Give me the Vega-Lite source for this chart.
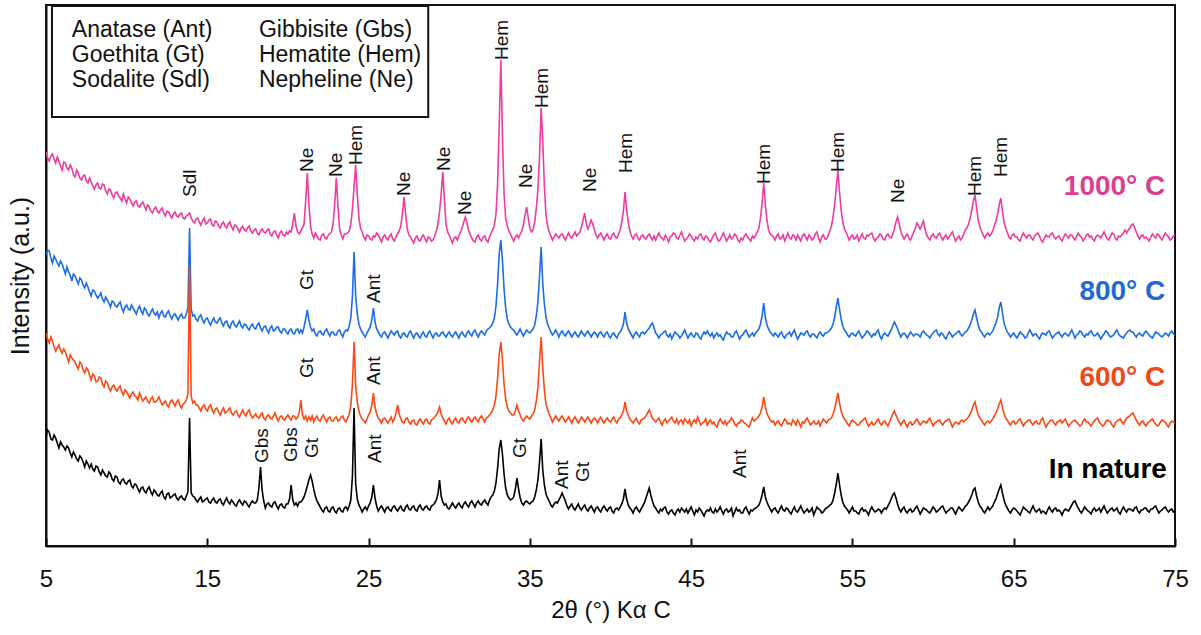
{
  "$schema": "https://vega.github.io/schema/vega-lite/v6.json",
  "width": 1129,
  "height": 541,
  "autosize": {"type": "none"},
  "padding": {"left": 46, "top": 5, "right": 26, "bottom": 89},
  "background": "white",
  "config": {
    "font": "Liberation Sans",
    "view": {"stroke": "#111111", "strokeWidth": 2},
    "axis": {"grid": false}
  },
  "datasets": {
    "xrd": [
      {"x":5,"a":394,"b":291,"c":213,"d":110},{"x":5.1,"a":388,"b":296,"c":207,"d":116},{"x":5.2,"a":385,"b":295,"c":203,"d":114},{"x":5.3,"a":390,"b":288,"c":209,"d":107},{"x":5.4,"a":392,"b":283,"c":205,"d":106},
      {"x":5.5,"a":387,"b":290,"c":199,"d":111},{"x":5.6,"a":383,"b":287,"c":195,"d":108},{"x":5.7,"a":389,"b":283,"c":198,"d":103},{"x":5.8,"a":385,"b":280,"c":201,"d":98},{"x":5.9,"a":380,"b":285,"c":196,"d":104},
      {"x":6,"a":376,"b":282,"c":193,"d":101},{"x":6.1,"a":384,"b":277,"c":197,"d":99},{"x":6.2,"a":383,"b":272,"c":194,"d":96},{"x":6.3,"a":378,"b":279,"c":189,"d":100},{"x":6.4,"a":376,"b":274,"c":184,"d":98},
      {"x":6.5,"a":381,"b":271,"c":191,"d":93},{"x":6.6,"a":378,"b":265,"c":188,"d":89},{"x":6.7,"a":371,"b":272,"c":186,"d":94},{"x":6.8,"a":369,"b":270,"c":184,"d":91},{"x":6.9,"a":376,"b":266,"c":180,"d":87},
      {"x":7,"a":373,"b":262,"c":177,"d":85},{"x":7.1,"a":368,"b":268,"c":184,"d":90},{"x":7.2,"a":366,"b":266,"c":182,"d":88},{"x":7.3,"a":370,"b":261,"c":176,"d":84},{"x":7.4,"a":371,"b":258,"c":173,"d":79},
      {"x":7.5,"a":365,"b":263,"c":178,"d":85},{"x":7.6,"a":363,"b":259,"c":176,"d":82},{"x":7.7,"a":368,"b":254,"c":171,"d":78},{"x":7.8,"a":364,"b":250,"c":166,"d":82},{"x":7.9,"a":360,"b":256,"c":172,"d":77},
      {"x":8,"a":357,"b":255,"c":170,"d":75},{"x":8.1,"a":361,"b":251,"c":164,"d":80},{"x":8.2,"a":363,"b":248,"c":165,"d":79},{"x":8.3,"a":358,"b":250,"c":169,"d":74},{"x":8.4,"a":357,"b":253,"c":168,"d":71},
      {"x":8.5,"a":362,"b":247,"c":162,"d":76},{"x":8.6,"a":361,"b":244,"c":159,"d":73},{"x":8.7,"a":355,"b":249,"c":165,"d":70},{"x":8.8,"a":352,"b":246,"c":163,"d":69},{"x":8.9,"a":357,"b":243,"c":158,"d":74},
      {"x":9,"a":356,"b":239,"c":155,"d":72},{"x":9.1,"a":351,"b":245,"c":159,"d":67},{"x":9.2,"a":348,"b":244,"c":161,"d":65},{"x":9.3,"a":353,"b":240,"c":157,"d":70},{"x":9.4,"a":354,"b":239,"c":155,"d":69},
      {"x":9.5,"a":350,"b":242,"c":158,"d":64},{"x":9.6,"a":348,"b":244,"c":160,"d":62},{"x":9.7,"a":345,"b":238,"c":154,"d":66},{"x":9.8,"a":352,"b":234,"c":151,"d":67},{"x":9.9,"a":347,"b":239,"c":156,"d":63},
      {"x":10,"a":343,"b":241,"c":154,"d":62},{"x":10.1,"a":349,"b":237,"c":151,"d":65},{"x":10.2,"a":347,"b":236,"c":148,"d":66},{"x":10.3,"a":343,"b":241,"c":152,"d":60},{"x":10.4,"a":340,"b":238,"c":154,"d":58},
      {"x":10.5,"a":344,"b":235,"c":150,"d":62},{"x":10.6,"a":345,"b":232,"c":149,"d":61},{"x":10.7,"a":340,"b":237,"c":146,"d":57},{"x":10.8,"a":339,"b":240,"c":153,"d":54},{"x":10.9,"a":342,"b":235,"c":149,"d":58},
      {"x":11,"a":344,"b":232,"c":145,"d":59},{"x":11.1,"a":340,"b":238,"c":147,"d":55},{"x":11.2,"a":336,"b":236,"c":149,"d":53},{"x":11.3,"a":341,"b":232,"c":145,"d":57},{"x":11.4,"a":339,"b":230,"c":143,"d":59},
      {"x":11.5,"a":335,"b":234,"c":147,"d":54},{"x":11.6,"a":333,"b":237,"c":149,"d":51},{"x":11.7,"a":337,"b":233,"c":144,"d":56},{"x":11.8,"a":339,"b":231,"c":144,"d":54},{"x":11.9,"a":335,"b":234,"c":146,"d":51},
      {"x":12,"a":333,"b":228,"c":149,"d":50},{"x":12.1,"a":336,"b":233,"c":145,"d":53},{"x":12.2,"a":338,"b":235,"c":141,"d":55},{"x":12.3,"a":333,"b":230,"c":143,"d":49},{"x":12.4,"a":330,"b":229,"c":145,"d":47},
      {"x":12.5,"a":335,"b":233,"c":141,"d":52},{"x":12.6,"a":334,"b":235,"c":139,"d":53},{"x":12.7,"a":331,"b":230,"c":144,"d":48},{"x":12.8,"a":328,"b":227,"c":146,"d":49},{"x":12.9,"a":332,"b":231,"c":143,"d":51},
      {"x":13,"a":334,"b":232,"c":140,"d":52},{"x":13.1,"a":330,"b":229,"c":144,"d":48},{"x":13.2,"a":329,"b":226,"c":146,"d":46},{"x":13.3,"a":332,"b":230,"c":141,"d":49},{"x":13.4,"a":333,"b":232,"c":138,"d":50},
      {"x":13.5,"a":328,"b":228,"c":142,"d":47},{"x":13.6,"a":327,"b":228,"c":143,"d":46},{"x":13.7,"a":330,"b":232,"c":146,"d":50},{"x":13.8,"a":331,"b":238,"c":152,"d":54},{"x":13.9,"a":333,"b":318,"c":281,"d":128},
      {"x":14,"a":328,"b":237,"c":150,"d":53},{"x":14.1,"a":325,"b":230,"c":143,"d":50},{"x":14.2,"a":323,"b":231,"c":145,"d":49},{"x":14.3,"a":327,"b":227,"c":141,"d":46},{"x":14.4,"a":328,"b":225,"c":141,"d":44},
      {"x":14.5,"a":324,"b":229,"c":138,"d":47},{"x":14.6,"a":321,"b":231,"c":135,"d":49},{"x":14.7,"a":325,"b":226,"c":139,"d":44},{"x":14.8,"a":328,"b":223,"c":141,"d":45},{"x":14.9,"a":322,"b":227,"c":137,"d":47},
      {"x":15,"a":323,"b":228,"c":135,"d":48},{"x":15.1,"a":326,"b":224,"c":139,"d":44},{"x":15.2,"a":327,"b":221,"c":141,"d":43},{"x":15.3,"a":321,"b":225,"c":136,"d":46},{"x":15.4,"a":320,"b":228,"c":133,"d":48},
      {"x":15.5,"a":325,"b":224,"c":137,"d":44},{"x":15.6,"a":324,"b":223,"c":138,"d":43},{"x":15.7,"a":320,"b":226,"c":134,"d":46},{"x":15.8,"a":318,"b":228,"c":131,"d":47},{"x":15.9,"a":322,"b":223,"c":135,"d":43},
      {"x":16,"a":324,"b":220,"c":138,"d":41},{"x":16.1,"a":320,"b":224,"c":133,"d":45},{"x":16.2,"a":318,"b":225,"c":134,"d":48},{"x":16.3,"a":322,"b":220,"c":136,"d":44},{"x":16.4,"a":324,"b":218,"c":138,"d":42},
      {"x":16.5,"a":319,"b":223,"c":133,"d":46},{"x":16.6,"a":316,"b":225,"c":131,"d":44},{"x":16.7,"a":321,"b":221,"c":134,"d":41},{"x":16.8,"a":320,"b":219,"c":135,"d":40},{"x":16.9,"a":317,"b":222,"c":131,"d":44},
      {"x":17,"a":314,"b":225,"c":129,"d":46},{"x":17.1,"a":318,"b":220,"c":133,"d":43},{"x":17.2,"a":320,"b":218,"c":136,"d":41},{"x":17.3,"a":316,"b":222,"c":132,"d":45},{"x":17.4,"a":315,"b":221,"c":130,"d":44},
      {"x":17.5,"a":318,"b":218,"c":134,"d":41},{"x":17.6,"a":320,"b":216,"c":136,"d":39},{"x":17.7,"a":315,"b":220,"c":131,"d":43},{"x":17.8,"a":313,"b":222,"c":128,"d":45},{"x":17.9,"a":316,"b":218,"c":130,"d":43},
      {"x":18,"a":317,"b":217,"c":132,"d":43},{"x":18.1,"a":313,"b":221,"c":129,"d":46},{"x":18.2,"a":311,"b":223,"c":128,"d":58},{"x":18.3,"a":315,"b":218,"c":131,"d":79},{"x":18.4,"a":317,"b":215,"c":133,"d":56},
      {"x":18.5,"a":314,"b":219,"c":128,"d":45},{"x":18.6,"a":313,"b":220,"c":126,"d":38},{"x":18.7,"a":316,"b":216,"c":130,"d":42},{"x":18.8,"a":317,"b":213,"c":131,"d":43},{"x":18.9,"a":312,"b":218,"c":128,"d":40},
      {"x":19,"a":310,"b":220,"c":127,"d":39},{"x":19.1,"a":314,"b":215,"c":130,"d":43},{"x":19.2,"a":315,"b":216,"c":133,"d":44},{"x":19.3,"a":311,"b":219,"c":128,"d":40},{"x":19.4,"a":308,"b":219,"c":125,"d":37},
      {"x":19.5,"a":313,"b":215,"c":129,"d":41},{"x":19.6,"a":315,"b":213,"c":130,"d":42},{"x":19.7,"a":311,"b":217,"c":127,"d":39},{"x":19.8,"a":310,"b":217,"c":126,"d":38},{"x":19.9,"a":314,"b":214,"c":129,"d":42},
      {"x":20,"a":312,"b":212,"c":131,"d":42},{"x":20.1,"a":315,"b":216,"c":128,"d":47},{"x":20.2,"a":314,"b":217,"c":126,"d":61},{"x":20.3,"a":322,"b":213,"c":130,"d":46},{"x":20.4,"a":333,"b":212,"c":130,"d":41},
      {"x":20.5,"a":320,"b":216,"c":127,"d":43},{"x":20.6,"a":314,"b":217,"c":129,"d":40},{"x":20.7,"a":312,"b":213,"c":133,"d":44},{"x":20.8,"a":315,"b":216,"c":146,"d":44},{"x":20.9,"a":318,"b":213,"c":131,"d":46},
      {"x":21,"a":322,"b":219,"c":127,"d":49},{"x":21.1,"a":345,"b":227,"c":130,"d":54},{"x":21.2,"a":373,"b":236,"c":125,"d":60},{"x":21.3,"a":342,"b":226,"c":129,"d":66},{"x":21.4,"a":320,"b":219,"c":126,"d":71},
      {"x":21.5,"a":312,"b":215,"c":130,"d":65},{"x":21.6,"a":308,"b":217,"c":124,"d":57},{"x":21.7,"a":313,"b":212,"c":128,"d":50},{"x":21.8,"a":310,"b":210,"c":130,"d":45},{"x":21.9,"a":307,"b":214,"c":126,"d":42},
      {"x":22,"a":306,"b":215,"c":125,"d":39},{"x":22.1,"a":311,"b":212,"c":129,"d":36},{"x":22.2,"a":312,"b":211,"c":131,"d":34},{"x":22.3,"a":308,"b":215,"c":127,"d":38},{"x":22.4,"a":307,"b":217,"c":124,"d":39},
      {"x":22.5,"a":311,"b":213,"c":128,"d":35},{"x":22.6,"a":312,"b":210,"c":129,"d":34},{"x":22.7,"a":314,"b":214,"c":125,"d":38},{"x":22.8,"a":322,"b":214,"c":125,"d":39},{"x":22.9,"a":342,"b":211,"c":128,"d":35},
      {"x":23,"a":368,"b":211,"c":129,"d":33},{"x":23.1,"a":340,"b":215,"c":125,"d":37},{"x":23.2,"a":318,"b":216,"c":126,"d":38},{"x":23.3,"a":311,"b":212,"c":129,"d":35},{"x":23.4,"a":307,"b":209,"c":130,"d":34},
      {"x":23.5,"a":312,"b":214,"c":126,"d":38},{"x":23.6,"a":312,"b":216,"c":124,"d":39},{"x":23.7,"a":313,"b":215,"c":128,"d":36},{"x":23.8,"a":315,"b":220,"c":132,"d":40},{"x":23.9,"a":322,"b":228,"c":140,"d":46},
      {"x":24,"a":337,"b":250,"c":162,"d":70},{"x":24.1,"a":359,"b":294,"c":204,"d":138},{"x":24.2,"a":381,"b":250,"c":160,"d":62},{"x":24.3,"a":352,"b":232,"c":144,"d":47},{"x":24.4,"a":328,"b":222,"c":135,"d":41},
      {"x":24.5,"a":318,"b":217,"c":130,"d":38},{"x":24.6,"a":314,"b":214,"c":127,"d":34},{"x":24.7,"a":309,"b":211,"c":125,"d":37},{"x":24.8,"a":306,"b":209,"c":123,"d":39},{"x":24.9,"a":311,"b":213,"c":127,"d":36},
      {"x":25,"a":310,"b":216,"c":131,"d":40},{"x":25.1,"a":307,"b":219,"c":134,"d":43},{"x":25.2,"a":306,"b":226,"c":141,"d":49},{"x":25.3,"a":310,"b":238,"c":153,"d":61},{"x":25.4,"a":309,"b":224,"c":139,"d":48},
      {"x":25.5,"a":313,"b":217,"c":132,"d":40},{"x":25.6,"a":311,"b":214,"c":128,"d":35},{"x":25.7,"a":308,"b":211,"c":126,"d":38},{"x":25.8,"a":304,"b":209,"c":123,"d":40},{"x":25.9,"a":309,"b":213,"c":127,"d":37},
      {"x":26,"a":311,"b":214,"c":128,"d":34},{"x":26.1,"a":308,"b":211,"c":125,"d":38},{"x":26.2,"a":306,"b":208,"c":123,"d":39},{"x":26.3,"a":310,"b":212,"c":126,"d":36},{"x":26.4,"a":312,"b":215,"c":129,"d":35},
      {"x":26.5,"a":307,"b":213,"c":124,"d":39},{"x":26.6,"a":305,"b":211,"c":127,"d":40},{"x":26.7,"a":309,"b":214,"c":133,"d":37},{"x":26.8,"a":312,"b":215,"c":141,"d":35},{"x":26.9,"a":315,"b":210,"c":132,"d":38},
      {"x":27,"a":320,"b":208,"c":127,"d":40},{"x":27.1,"a":333,"b":212,"c":124,"d":36},{"x":27.2,"a":349,"b":213,"c":123,"d":35},{"x":27.3,"a":331,"b":210,"c":127,"d":39},{"x":27.4,"a":317,"b":209,"c":128,"d":41},
      {"x":27.5,"a":311,"b":213,"c":124,"d":37},{"x":27.6,"a":309,"b":215,"c":122,"d":36},{"x":27.7,"a":306,"b":211,"c":125,"d":39},{"x":27.8,"a":303,"b":208,"c":126,"d":40},{"x":27.9,"a":308,"b":212,"c":122,"d":36},
      {"x":28,"a":310,"b":213,"c":121,"d":35},{"x":28.1,"a":306,"b":210,"c":125,"d":39},{"x":28.2,"a":305,"b":208,"c":127,"d":41},{"x":28.3,"a":309,"b":212,"c":124,"d":37},{"x":28.4,"a":311,"b":214,"c":122,"d":36},
      {"x":28.5,"a":307,"b":210,"c":126,"d":39},{"x":28.6,"a":304,"b":209,"c":127,"d":40},{"x":28.7,"a":309,"b":213,"c":123,"d":37},{"x":28.8,"a":308,"b":215,"c":122,"d":36},{"x":28.9,"a":305,"b":211,"c":126,"d":40},
      {"x":29,"a":306,"b":208,"c":127,"d":41},{"x":29.1,"a":310,"b":212,"c":129,"d":43},{"x":29.2,"a":315,"b":213,"c":131,"d":46},{"x":29.3,"a":322,"b":210,"c":134,"d":52},{"x":29.4,"a":334,"b":210,"c":139,"d":66},
      {"x":29.5,"a":352,"b":213,"c":132,"d":50},{"x":29.6,"a":374,"b":214,"c":128,"d":44},{"x":29.7,"a":348,"b":211,"c":125,"d":41},{"x":29.8,"a":322,"b":209,"c":122,"d":42},{"x":29.9,"a":314,"b":212,"c":126,"d":38},
      {"x":30,"a":311,"b":214,"c":128,"d":37},{"x":30.1,"a":307,"b":211,"c":124,"d":40},{"x":30.2,"a":303,"b":209,"c":122,"d":43},{"x":30.3,"a":308,"b":212,"c":126,"d":40},{"x":30.4,"a":309,"b":214,"c":128,"d":38},
      {"x":30.5,"a":306,"b":211,"c":124,"d":41},{"x":30.6,"a":310,"b":208,"c":123,"d":43},{"x":30.7,"a":314,"b":212,"c":127,"d":40},{"x":30.8,"a":318,"b":214,"c":128,"d":38},{"x":30.9,"a":324,"b":211,"c":125,"d":42},
      {"x":31,"a":329,"b":209,"c":123,"d":44},{"x":31.1,"a":323,"b":213,"c":127,"d":41},{"x":31.2,"a":316,"b":215,"c":129,"d":39},{"x":31.3,"a":311,"b":212,"c":126,"d":43},{"x":31.4,"a":308,"b":210,"c":124,"d":45},
      {"x":31.5,"a":305,"b":214,"c":127,"d":42},{"x":31.6,"a":304,"b":216,"c":129,"d":39},{"x":31.7,"a":309,"b":212,"c":126,"d":43},{"x":31.8,"a":311,"b":209,"c":124,"d":45},{"x":31.9,"a":307,"b":213,"c":128,"d":42},
      {"x":32,"a":305,"b":215,"c":130,"d":41},{"x":32.1,"a":309,"b":213,"c":127,"d":44},{"x":32.2,"a":310,"b":211,"c":124,"d":46},{"x":32.3,"a":306,"b":215,"c":128,"d":43},{"x":32.4,"a":304,"b":217,"c":129,"d":41},
      {"x":32.5,"a":309,"b":218,"c":131,"d":46},{"x":32.6,"a":313,"b":220,"c":133,"d":49},{"x":32.7,"a":316,"b":223,"c":136,"d":51},{"x":32.8,"a":321,"b":228,"c":141,"d":55},{"x":32.9,"a":332,"b":240,"c":150,"d":63},
      {"x":33,"a":362,"b":262,"c":168,"d":78},{"x":33.1,"a":420,"b":292,"c":192,"d":97},{"x":33.2,"a":486,"b":306,"c":204,"d":106},{"x":33.3,"a":410,"b":286,"c":186,"d":92},{"x":33.4,"a":352,"b":257,"c":162,"d":72},
      {"x":33.5,"a":328,"b":238,"c":147,"d":58},{"x":33.6,"a":320,"b":227,"c":139,"d":51},{"x":33.7,"a":315,"b":222,"c":135,"d":48},{"x":33.8,"a":312,"b":219,"c":133,"d":46},{"x":33.9,"a":308,"b":217,"c":131,"d":47},
      {"x":34,"a":305,"b":216,"c":131,"d":49},{"x":34.1,"a":309,"b":213,"c":135,"d":57},{"x":34.2,"a":311,"b":211,"c":141,"d":68},{"x":34.3,"a":308,"b":214,"c":135,"d":57},{"x":34.4,"a":312,"b":217,"c":131,"d":48},
      {"x":34.5,"a":315,"b":213,"c":127,"d":43},{"x":34.6,"a":321,"b":210,"c":125,"d":41},{"x":34.7,"a":331,"b":213,"c":128,"d":44},{"x":34.8,"a":339,"b":216,"c":130,"d":45},{"x":34.9,"a":328,"b":214,"c":128,"d":43},
      {"x":35,"a":318,"b":213,"c":127,"d":42},{"x":35.1,"a":314,"b":215,"c":130,"d":44},{"x":35.2,"a":316,"b":217,"c":132,"d":45},{"x":35.3,"a":324,"b":221,"c":136,"d":49},{"x":35.4,"a":338,"b":230,"c":145,"d":56},
      {"x":35.5,"a":356,"b":244,"c":159,"d":66},{"x":35.6,"a":390,"b":270,"c":184,"d":84},{"x":35.7,"a":438,"b":299,"c":209,"d":107},{"x":35.8,"a":405,"b":262,"c":178,"d":76},{"x":35.9,"a":360,"b":242,"c":156,"d":61},
      {"x":36,"a":331,"b":229,"c":142,"d":52},{"x":36.1,"a":320,"b":222,"c":136,"d":48},{"x":36.2,"a":314,"b":218,"c":132,"d":45},{"x":36.3,"a":310,"b":214,"c":128,"d":41},{"x":36.4,"a":306,"b":211,"c":124,"d":39},
      {"x":36.5,"a":309,"b":213,"c":127,"d":42},{"x":36.6,"a":312,"b":216,"c":130,"d":44},{"x":36.7,"a":310,"b":213,"c":127,"d":43},{"x":36.8,"a":308,"b":209,"c":125,"d":46},{"x":36.9,"a":311,"b":213,"c":128,"d":49},
      {"x":37,"a":312,"b":215,"c":130,"d":53},{"x":37.1,"a":309,"b":212,"c":127,"d":49},{"x":37.2,"a":306,"b":210,"c":124,"d":45},{"x":37.3,"a":310,"b":213,"c":126,"d":40},{"x":37.4,"a":313,"b":215,"c":129,"d":37},
      {"x":37.5,"a":309,"b":212,"c":126,"d":40},{"x":37.6,"a":308,"b":209,"c":123,"d":42},{"x":37.7,"a":311,"b":212,"c":127,"d":38},{"x":37.8,"a":314,"b":214,"c":129,"d":36},{"x":37.9,"a":310,"b":211,"c":126,"d":39},
      {"x":38,"a":312,"b":209,"c":123,"d":42},{"x":38.1,"a":314,"b":212,"c":126,"d":38},{"x":38.2,"a":319,"b":215,"c":129,"d":36},{"x":38.3,"a":326,"b":212,"c":127,"d":39},{"x":38.4,"a":333,"b":210,"c":124,"d":41},
      {"x":38.5,"a":322,"b":213,"c":127,"d":37},{"x":38.6,"a":317,"b":215,"c":129,"d":35},{"x":38.7,"a":321,"b":212,"c":126,"d":38},{"x":38.8,"a":326,"b":209,"c":123,"d":40},{"x":38.9,"a":322,"b":212,"c":126,"d":37},
      {"x":39,"a":316,"b":214,"c":128,"d":34},{"x":39.1,"a":311,"b":212,"c":126,"d":38},{"x":39.2,"a":308,"b":209,"c":123,"d":39},{"x":39.3,"a":311,"b":213,"c":127,"d":36},{"x":39.4,"a":313,"b":214,"c":129,"d":34},
      {"x":39.5,"a":309,"b":211,"c":125,"d":38},{"x":39.6,"a":306,"b":209,"c":123,"d":40},{"x":39.7,"a":310,"b":213,"c":126,"d":37},{"x":39.8,"a":312,"b":214,"c":128,"d":35},{"x":39.9,"a":308,"b":210,"c":125,"d":38},
      {"x":40,"a":307,"b":208,"c":124,"d":39},{"x":40.1,"a":311,"b":212,"c":127,"d":35},{"x":40.2,"a":313,"b":213,"c":129,"d":33},{"x":40.3,"a":309,"b":210,"c":125,"d":37},{"x":40.4,"a":308,"b":208,"c":123,"d":38},
      {"x":40.5,"a":312,"b":212,"c":127,"d":36},{"x":40.6,"a":316,"b":214,"c":128,"d":39},{"x":40.7,"a":324,"b":217,"c":131,"d":42},{"x":40.8,"a":335,"b":222,"c":135,"d":47},{"x":40.9,"a":354,"b":234,"c":144,"d":57},
      {"x":41,"a":336,"b":223,"c":135,"d":47},{"x":41.1,"a":324,"b":217,"c":131,"d":41},{"x":41.2,"a":315,"b":214,"c":127,"d":38},{"x":41.3,"a":310,"b":211,"c":125,"d":36},{"x":41.4,"a":307,"b":208,"c":123,"d":33},
      {"x":41.5,"a":311,"b":212,"c":126,"d":37},{"x":41.6,"a":312,"b":214,"c":128,"d":39},{"x":41.7,"a":308,"b":211,"c":124,"d":36},{"x":41.8,"a":306,"b":209,"c":122,"d":34},{"x":41.9,"a":310,"b":213,"c":126,"d":37},
      {"x":42,"a":311,"b":214,"c":127,"d":40},{"x":42.1,"a":308,"b":212,"c":128,"d":43},{"x":42.2,"a":307,"b":214,"c":130,"d":48},{"x":42.3,"a":310,"b":216,"c":133,"d":53},{"x":42.4,"a":312,"b":218,"c":136,"d":58},
      {"x":42.5,"a":309,"b":221,"c":132,"d":51},{"x":42.6,"a":306,"b":223,"c":128,"d":45},{"x":42.7,"a":310,"b":218,"c":126,"d":40},{"x":42.8,"a":306,"b":213,"c":124,"d":38},{"x":42.9,"a":310,"b":211,"c":126,"d":35},
      {"x":43,"a":313,"b":208,"c":128,"d":33},{"x":43.1,"a":309,"b":211,"c":124,"d":37},{"x":43.2,"a":308,"b":212,"c":121,"d":35},{"x":43.3,"a":306,"b":214,"c":125,"d":38},{"x":43.4,"a":311,"b":215,"c":127,"d":39},
      {"x":43.5,"a":308,"b":211,"c":123,"d":34},{"x":43.6,"a":304,"b":209,"c":125,"d":32},{"x":43.7,"a":309,"b":212,"c":127,"d":35},{"x":43.8,"a":310,"b":207,"c":129,"d":36},{"x":43.9,"a":313,"b":211,"c":125,"d":33},
      {"x":44,"a":312,"b":214,"c":123,"d":31},{"x":44.1,"a":308,"b":212,"c":127,"d":35},{"x":44.2,"a":307,"b":211,"c":122,"d":37},{"x":44.3,"a":311,"b":208,"c":125,"d":34},{"x":44.4,"a":314,"b":210,"c":126,"d":38},
      {"x":44.5,"a":309,"b":213,"c":122,"d":36},{"x":44.6,"a":305,"b":216,"c":127,"d":34},{"x":44.7,"a":307,"b":212,"c":125,"d":37},{"x":44.8,"a":309,"b":208,"c":123,"d":33},{"x":44.9,"a":312,"b":211,"c":126,"d":36},
      {"x":45,"a":310,"b":213,"c":120,"d":39},{"x":45.1,"a":307,"b":210,"c":124,"d":35},{"x":45.2,"a":305,"b":209,"c":126,"d":31},{"x":45.3,"a":309,"b":213,"c":123,"d":36},{"x":45.4,"a":307,"b":212,"c":129,"d":34},
      {"x":45.5,"a":311,"b":209,"c":125,"d":38},{"x":45.6,"a":312,"b":207,"c":121,"d":36},{"x":45.7,"a":308,"b":211,"c":123,"d":33},{"x":45.8,"a":306,"b":214,"c":124,"d":30},{"x":45.9,"a":310,"b":212,"c":127,"d":34},
      {"x":46,"a":309,"b":215,"c":121,"d":36},{"x":46.1,"a":306,"b":212,"c":124,"d":35},{"x":46.2,"a":304,"b":210,"c":126,"d":38},{"x":46.3,"a":308,"b":213,"c":122,"d":34},{"x":46.4,"a":311,"b":208,"c":124,"d":33},
      {"x":46.5,"a":313,"b":211,"c":121,"d":37},{"x":46.6,"a":308,"b":213,"c":119,"d":34},{"x":46.7,"a":305,"b":210,"c":124,"d":36},{"x":46.8,"a":306,"b":211,"c":127,"d":39},{"x":46.9,"a":310,"b":208,"c":124,"d":35},
      {"x":47,"a":313,"b":206,"c":122,"d":32},{"x":47.1,"a":309,"b":211,"c":125,"d":36},{"x":47.2,"a":305,"b":214,"c":121,"d":37},{"x":47.3,"a":308,"b":212,"c":124,"d":34},{"x":47.4,"a":311,"b":212,"c":125,"d":35},
      {"x":47.5,"a":307,"b":209,"c":128,"d":38},{"x":47.6,"a":309,"b":209,"c":126,"d":30},{"x":47.7,"a":312,"b":213,"c":122,"d":34},{"x":47.8,"a":310,"b":215,"c":120,"d":38},{"x":47.9,"a":306,"b":211,"c":123,"d":35},
      {"x":48,"a":304,"b":207,"c":123,"d":36},{"x":48.1,"a":308,"b":210,"c":126,"d":33},{"x":48.2,"a":306,"b":211,"c":125,"d":33},{"x":48.3,"a":310,"b":214,"c":123,"d":37},{"x":48.4,"a":312,"b":216,"c":122,"d":39},
      {"x":48.5,"a":309,"b":212,"c":120,"d":35},{"x":48.6,"a":307,"b":209,"c":119,"d":32},{"x":48.7,"a":305,"b":211,"c":124,"d":36},{"x":48.8,"a":310,"b":213,"c":128,"d":35},{"x":48.9,"a":308,"b":210,"c":125,"d":37},
      {"x":49,"a":311,"b":213,"c":126,"d":38},{"x":49.1,"a":314,"b":215,"c":128,"d":39},{"x":49.2,"a":318,"b":217,"c":130,"d":41},{"x":49.3,"a":328,"b":222,"c":133,"d":45},{"x":49.4,"a":343,"b":230,"c":139,"d":51},
      {"x":49.5,"a":363,"b":243,"c":149,"d":59},{"x":49.6,"a":341,"b":229,"c":139,"d":49},{"x":49.7,"a":326,"b":221,"c":133,"d":44},{"x":49.8,"a":316,"b":217,"c":129,"d":40},{"x":49.9,"a":312,"b":214,"c":126,"d":37},
      {"x":50,"a":311,"b":212,"c":124,"d":34},{"x":50.1,"a":309,"b":210,"c":125,"d":37},{"x":50.2,"a":306,"b":213,"c":121,"d":38},{"x":50.3,"a":310,"b":211,"c":124,"d":35},{"x":50.4,"a":312,"b":209,"c":125,"d":33},
      {"x":50.5,"a":307,"b":212,"c":122,"d":37},{"x":50.6,"a":308,"b":214,"c":120,"d":40},{"x":50.7,"a":311,"b":210,"c":124,"d":36},{"x":50.8,"a":305,"b":208,"c":127,"d":35},{"x":50.9,"a":309,"b":211,"c":125,"d":38},
      {"x":51,"a":313,"b":212,"c":122,"d":37},{"x":51.1,"a":308,"b":214,"c":123,"d":34},{"x":51.2,"a":307,"b":210,"c":121,"d":32},{"x":51.3,"a":311,"b":213,"c":126,"d":36},{"x":51.4,"a":310,"b":216,"c":124,"d":39},
      {"x":51.5,"a":306,"b":211,"c":121,"d":35},{"x":51.6,"a":311,"b":207,"c":126,"d":34},{"x":51.7,"a":308,"b":210,"c":123,"d":37},{"x":51.8,"a":305,"b":213,"c":119,"d":40},{"x":51.9,"a":310,"b":212,"c":124,"d":36},
      {"x":52,"a":312,"b":211,"c":123,"d":33},{"x":52.1,"a":309,"b":214,"c":126,"d":35},{"x":52.2,"a":306,"b":215,"c":128,"d":37},{"x":52.3,"a":311,"b":211,"c":124,"d":34},{"x":52.4,"a":309,"b":209,"c":121,"d":35},
      {"x":52.5,"a":306,"b":212,"c":123,"d":38},{"x":52.6,"a":308,"b":212,"c":125,"d":31},{"x":52.7,"a":312,"b":210,"c":122,"d":35},{"x":52.8,"a":314,"b":208,"c":122,"d":39},{"x":52.9,"a":308,"b":212,"c":125,"d":37},
      {"x":53,"a":304,"b":214,"c":120,"d":36},{"x":53.1,"a":309,"b":211,"c":124,"d":33},{"x":53.2,"a":311,"b":210,"c":127,"d":34},{"x":53.3,"a":307,"b":213,"c":125,"d":37},{"x":53.4,"a":307,"b":213,"c":123,"d":38},
      {"x":53.5,"a":311,"b":214,"c":126,"d":39},{"x":53.6,"a":315,"b":216,"c":127,"d":41},{"x":53.7,"a":320,"b":218,"c":128,"d":42},{"x":53.8,"a":329,"b":222,"c":132,"d":46},{"x":53.9,"a":342,"b":229,"c":137,"d":53},
      {"x":54,"a":359,"b":239,"c":145,"d":62},{"x":54.1,"a":376,"b":248,"c":153,"d":73},{"x":54.2,"a":354,"b":237,"c":143,"d":61},{"x":54.3,"a":336,"b":227,"c":135,"d":51},{"x":54.4,"a":324,"b":220,"c":130,"d":44},
      {"x":54.5,"a":317,"b":216,"c":127,"d":40},{"x":54.6,"a":314,"b":214,"c":125,"d":38},{"x":54.7,"a":310,"b":211,"c":122,"d":36},{"x":54.8,"a":306,"b":209,"c":120,"d":33},{"x":54.9,"a":309,"b":212,"c":124,"d":36},
      {"x":55,"a":311,"b":213,"c":126,"d":39},{"x":55.1,"a":307,"b":211,"c":124,"d":35},{"x":55.2,"a":308,"b":210,"c":123,"d":35},{"x":55.3,"a":311,"b":213,"c":121,"d":33},{"x":55.4,"a":305,"b":215,"c":121,"d":32},
      {"x":55.5,"a":309,"b":211,"c":124,"d":36},{"x":55.6,"a":312,"b":208,"c":125,"d":38},{"x":55.7,"a":308,"b":210,"c":127,"d":35},{"x":55.8,"a":307,"b":212,"c":128,"d":36},{"x":55.9,"a":311,"b":215,"c":123,"d":34},
      {"x":56,"a":310,"b":214,"c":120,"d":31},{"x":56.1,"a":312,"b":211,"c":122,"d":36},{"x":56.2,"a":313,"b":209,"c":124,"d":39},{"x":56.3,"a":308,"b":212,"c":121,"d":36},{"x":56.4,"a":305,"b":211,"c":122,"d":34},
      {"x":56.5,"a":308,"b":214,"c":125,"d":35},{"x":56.6,"a":309,"b":216,"c":127,"d":37},{"x":56.7,"a":312,"b":210,"c":123,"d":36},{"x":56.8,"a":311,"b":207,"c":121,"d":33},{"x":56.9,"a":307,"b":211,"c":124,"d":36},
      {"x":57,"a":306,"b":213,"c":125,"d":38},{"x":57.1,"a":310,"b":211,"c":122,"d":37},{"x":57.2,"a":312,"b":210,"c":120,"d":40},{"x":57.3,"a":309,"b":213,"c":124,"d":43},{"x":57.4,"a":308,"b":216,"c":128,"d":47},
      {"x":57.5,"a":312,"b":220,"c":132,"d":51},{"x":57.6,"a":317,"b":224,"c":135,"d":53},{"x":57.7,"a":324,"b":221,"c":131,"d":48},{"x":57.8,"a":329,"b":217,"c":127,"d":42},{"x":57.9,"a":322,"b":213,"c":124,"d":37},
      {"x":58,"a":315,"b":209,"c":121,"d":34},{"x":58.1,"a":310,"b":212,"c":124,"d":37},{"x":58.2,"a":307,"b":213,"c":126,"d":39},{"x":58.3,"a":310,"b":211,"c":122,"d":35},{"x":58.4,"a":312,"b":208,"c":119,"d":33},
      {"x":58.5,"a":308,"b":211,"c":123,"d":36},{"x":58.6,"a":306,"b":214,"c":124,"d":37},{"x":58.7,"a":310,"b":212,"c":121,"d":34},{"x":58.8,"a":314,"b":210,"c":122,"d":35},{"x":58.9,"a":318,"b":212,"c":125,"d":38},
      {"x":59,"a":323,"b":212,"c":127,"d":40},{"x":59.1,"a":320,"b":211,"c":124,"d":36},{"x":59.2,"a":317,"b":209,"c":121,"d":32},{"x":59.3,"a":321,"b":213,"c":123,"d":35},{"x":59.4,"a":325,"b":215,"c":125,"d":38},
      {"x":59.5,"a":317,"b":213,"c":124,"d":37},{"x":59.6,"a":311,"b":211,"c":123,"d":36},{"x":59.7,"a":308,"b":210,"c":126,"d":34},{"x":59.8,"a":306,"b":208,"c":128,"d":33},{"x":59.9,"a":310,"b":211,"c":124,"d":36},
      {"x":60,"a":312,"b":213,"c":120,"d":39},{"x":60.1,"a":309,"b":215,"c":123,"d":37},{"x":60.2,"a":308,"b":216,"c":124,"d":34},{"x":60.3,"a":311,"b":212,"c":125,"d":35},{"x":60.4,"a":313,"b":210,"c":126,"d":37},
      {"x":60.5,"a":309,"b":213,"c":123,"d":39},{"x":60.6,"a":306,"b":212,"c":121,"d":40},{"x":60.7,"a":309,"b":209,"c":124,"d":36},{"x":60.8,"a":311,"b":207,"c":125,"d":33},{"x":60.9,"a":307,"b":211,"c":126,"d":35},
      {"x":61,"a":309,"b":214,"c":127,"d":36},{"x":61.1,"a":312,"b":212,"c":123,"d":38},{"x":61.2,"a":314,"b":209,"c":119,"d":38},{"x":61.3,"a":309,"b":211,"c":122,"d":35},{"x":61.4,"a":305,"b":212,"c":124,"d":32},
      {"x":61.5,"a":308,"b":214,"c":123,"d":36},{"x":61.6,"a":310,"b":215,"c":122,"d":39},{"x":61.7,"a":306,"b":212,"c":125,"d":37},{"x":61.8,"a":308,"b":210,"c":126,"d":35},{"x":61.9,"a":312,"b":212,"c":124,"d":37},
      {"x":62,"a":316,"b":214,"c":126,"d":40},{"x":62.1,"a":318,"b":215,"c":127,"d":41},{"x":62.2,"a":322,"b":218,"c":129,"d":44},{"x":62.3,"a":328,"b":221,"c":132,"d":47},{"x":62.4,"a":336,"b":226,"c":136,"d":51},
      {"x":62.5,"a":345,"b":232,"c":141,"d":56},{"x":62.6,"a":351,"b":236,"c":144,"d":58},{"x":62.7,"a":338,"b":228,"c":137,"d":50},{"x":62.8,"a":326,"b":221,"c":131,"d":44},{"x":62.9,"a":319,"b":216,"c":128,"d":40},
      {"x":63,"a":315,"b":214,"c":126,"d":38},{"x":63.1,"a":311,"b":211,"c":123,"d":35},{"x":63.2,"a":308,"b":209,"c":121,"d":33},{"x":63.3,"a":311,"b":212,"c":124,"d":36},{"x":63.4,"a":313,"b":213,"c":125,"d":39},
      {"x":63.5,"a":310,"b":211,"c":123,"d":36},{"x":63.6,"a":312,"b":213,"c":125,"d":38},{"x":63.7,"a":315,"b":215,"c":127,"d":40},{"x":63.8,"a":320,"b":219,"c":130,"d":44},{"x":63.9,"a":325,"b":223,"c":133,"d":47},
      {"x":64,"a":332,"b":229,"c":137,"d":52},{"x":64.1,"a":341,"b":238,"c":142,"d":57},{"x":64.2,"a":348,"b":244,"c":146,"d":61},{"x":64.3,"a":335,"b":233,"c":139,"d":53},{"x":64.4,"a":324,"b":223,"c":132,"d":46},
      {"x":64.5,"a":318,"b":218,"c":128,"d":41},{"x":64.6,"a":314,"b":214,"c":126,"d":38},{"x":64.7,"a":309,"b":212,"c":123,"d":35},{"x":64.8,"a":307,"b":209,"c":121,"d":33},{"x":64.9,"a":311,"b":211,"c":124,"d":36},
      {"x":65,"a":312,"b":213,"c":125,"d":38},{"x":65.1,"a":309,"b":210,"c":122,"d":37},{"x":65.2,"a":309,"b":208,"c":123,"d":35},{"x":65.3,"a":306,"b":211,"c":126,"d":33},{"x":65.4,"a":305,"b":214,"c":127,"d":31},
      {"x":65.5,"a":310,"b":212,"c":123,"d":35},{"x":65.6,"a":313,"b":211,"c":120,"d":39},{"x":65.7,"a":310,"b":208,"c":123,"d":37},{"x":65.8,"a":308,"b":209,"c":124,"d":36},{"x":65.9,"a":311,"b":213,"c":126,"d":34},
      {"x":66,"a":311,"b":216,"c":126,"d":33},{"x":66.1,"a":308,"b":213,"c":123,"d":37},{"x":66.2,"a":306,"b":210,"c":121,"d":40},{"x":66.3,"a":310,"b":212,"c":124,"d":36},{"x":66.4,"a":312,"b":212,"c":125,"d":34},
      {"x":66.5,"a":313,"b":209,"c":122,"d":36},{"x":66.6,"a":310,"b":207,"c":122,"d":37},{"x":66.7,"a":306,"b":211,"c":126,"d":33},{"x":66.8,"a":304,"b":213,"c":128,"d":35},{"x":66.9,"a":308,"b":212,"c":123,"d":34},
      {"x":67,"a":311,"b":211,"c":119,"d":32},{"x":67.1,"a":309,"b":214,"c":122,"d":36},{"x":67.2,"a":309,"b":215,"c":124,"d":39},{"x":67.3,"a":312,"b":211,"c":126,"d":36},{"x":67.4,"a":313,"b":208,"c":126,"d":34},
      {"x":67.5,"a":309,"b":210,"c":123,"d":37},{"x":67.6,"a":307,"b":212,"c":121,"d":38},{"x":67.7,"a":309,"b":213,"c":124,"d":35},{"x":67.8,"a":310,"b":214,"c":125,"d":36},{"x":67.9,"a":307,"b":211,"c":126,"d":34},
      {"x":68,"a":305,"b":209,"c":123,"d":31},{"x":68.1,"a":309,"b":212,"c":125,"d":35},{"x":68.2,"a":312,"b":213,"c":127,"d":37},{"x":68.3,"a":310,"b":211,"c":123,"d":36},{"x":68.4,"a":308,"b":210,"c":120,"d":35},
      {"x":68.5,"a":311,"b":213,"c":122,"d":38},{"x":68.6,"a":311,"b":216,"c":124,"d":41},{"x":68.7,"a":308,"b":212,"c":125,"d":44},{"x":68.8,"a":306,"b":208,"c":126,"d":45},{"x":68.9,"a":310,"b":211,"c":124,"d":41},
      {"x":69,"a":313,"b":212,"c":122,"d":38},{"x":69.1,"a":310,"b":215,"c":120,"d":35},{"x":69.2,"a":309,"b":214,"c":121,"d":33},{"x":69.3,"a":305,"b":211,"c":125,"d":36},{"x":69.4,"a":307,"b":209,"c":127,"d":39},
      {"x":69.5,"a":311,"b":212,"c":124,"d":37},{"x":69.6,"a":312,"b":211,"c":124,"d":35},{"x":69.7,"a":309,"b":214,"c":122,"d":34},{"x":69.8,"a":310,"b":215,"c":120,"d":32},{"x":69.9,"a":307,"b":212,"c":123,"d":36},
      {"x":70,"a":305,"b":210,"c":125,"d":38},{"x":70.1,"a":309,"b":211,"c":127,"d":35},{"x":70.2,"a":311,"b":213,"c":128,"d":36},{"x":70.3,"a":310,"b":210,"c":124,"d":38},{"x":70.4,"a":308,"b":207,"c":122,"d":34},
      {"x":70.5,"a":311,"b":210,"c":120,"d":37},{"x":70.6,"a":314,"b":212,"c":121,"d":40},{"x":70.7,"a":310,"b":215,"c":124,"d":36},{"x":70.8,"a":307,"b":214,"c":126,"d":33},{"x":70.9,"a":306,"b":211,"c":125,"d":35},
      {"x":71,"a":310,"b":209,"c":124,"d":37},{"x":71.1,"a":313,"b":210,"c":121,"d":38},{"x":71.2,"a":312,"b":211,"c":119,"d":35},{"x":71.3,"a":308,"b":214,"c":123,"d":36},{"x":71.4,"a":306,"b":216,"c":125,"d":38},
      {"x":71.5,"a":310,"b":212,"c":126,"d":34},{"x":71.6,"a":309,"b":210,"c":127,"d":32},{"x":71.7,"a":311,"b":209,"c":124,"d":36},{"x":71.8,"a":313,"b":208,"c":122,"d":39},{"x":71.9,"a":316,"b":211,"c":125,"d":36},
      {"x":72,"a":313,"b":213,"c":128,"d":34},{"x":72.1,"a":316,"b":215,"c":129,"d":37},{"x":72.2,"a":318,"b":216,"c":130,"d":37},{"x":72.3,"a":321,"b":214,"c":132,"d":36},{"x":72.4,"a":322,"b":214,"c":133,"d":35},
      {"x":72.5,"a":318,"b":211,"c":129,"d":38},{"x":72.6,"a":314,"b":209,"c":126,"d":39},{"x":72.7,"a":310,"b":212,"c":123,"d":35},{"x":72.8,"a":307,"b":213,"c":121,"d":33},{"x":72.9,"a":310,"b":211,"c":124,"d":36},
      {"x":73,"a":311,"b":210,"c":125,"d":36},{"x":73.1,"a":308,"b":213,"c":122,"d":38},{"x":73.2,"a":309,"b":215,"c":120,"d":38},{"x":73.3,"a":307,"b":213,"c":123,"d":35},{"x":73.4,"a":305,"b":211,"c":124,"d":34},
      {"x":73.5,"a":309,"b":209,"c":126,"d":37},{"x":73.6,"a":312,"b":208,"c":127,"d":37},{"x":73.7,"a":310,"b":211,"c":124,"d":39},{"x":73.8,"a":308,"b":214,"c":122,"d":40},{"x":73.9,"a":312,"b":213,"c":120,"d":36},
      {"x":74,"a":311,"b":212,"c":121,"d":33},{"x":74.1,"a":308,"b":210,"c":124,"d":35},{"x":74.2,"a":306,"b":209,"c":126,"d":36},{"x":74.3,"a":310,"b":211,"c":125,"d":38},{"x":74.4,"a":313,"b":213,"c":124,"d":39},
      {"x":74.5,"a":311,"b":212,"c":121,"d":36},{"x":74.6,"a":309,"b":210,"c":119,"d":34},{"x":74.7,"a":306,"b":213,"c":123,"d":36},{"x":74.8,"a":307,"b":215,"c":125,"d":37},{"x":74.9,"a":310,"b":212,"c":124,"d":34},
      {"x":75,"a":311,"b":211,"c":123,"d":35}
    ],
    "peaks": [
      {"x":13.9,"v":349,"t":"Sdl"},{"x":21.2,"v":374,"t":"Ne"},{"x":23.0,"v":369,"t":"Ne"},{"x":24.2,"v":381,"t":"Hem"},
      {"x":27.2,"v":350,"t":"Ne"},{"x":29.65,"v":375,"t":"Ne"},{"x":31.0,"v":331,"t":"Ne"},{"x":33.25,"v":486,"t":"Hem"},
      {"x":34.75,"v":358,"t":"Ne"},{"x":35.75,"v":438,"t":"Hem"},{"x":38.75,"v":354,"t":"Ne"},{"x":40.95,"v":373,"t":"Hem"},
      {"x":49.5,"v":362,"t":"Hem"},{"x":54.1,"v":374,"t":"Hem"},{"x":57.8,"v":343,"t":"Ne"},{"x":62.6,"v":350,"t":"Hem"},{"x":64.2,"v":369,"t":"Hem"},
      {"x":21.2,"v":256,"t":"Gt"},{"x":25.35,"v":243,"t":"Ant"},
      {"x":21.2,"v":168,"t":"Gt"},{"x":25.35,"v":161,"t":"Ant"},
      {"x":18.4,"v":83,"t":"Gbs"},{"x":20.2,"v":84,"t":"Gbs"},{"x":21.5,"v":88,"t":"Gt"},{"x":25.4,"v":83,"t":"Ant"},
      {"x":34.4,"v":88,"t":"Gt"},{"x":37.0,"v":57,"t":"Ant"},{"x":38.3,"v":64,"t":"Gt"},{"x":48.0,"v":68,"t":"Ant"}
    ],
    "box": [{"x":5.37,"x2":28.7,"v":540,"v2":429}],
    "phases": [
      {"x":6.6,"v":516,"t":"Anatase (Ant)"},{"x":6.6,"v":491,"t":"Goethita (Gt)"},{"x":6.6,"v":466,"t":"Sodalite (Sdl)"},
      {"x":18.2,"v":516,"t":"Gibbisite (Gbs)"},{"x":18.2,"v":491,"t":"Hematite (Hem)"},{"x":18.2,"v":466,"t":"Nepheline (Ne)"}
    ],
    "names": [
      {"x":74.4,"v":359,"t":"1000° C","series":"a"},{"x":74.4,"v":254,"t":"800° C","series":"b"},
      {"x":74.4,"v":168,"t":"600° C","series":"c"},{"x":74.5,"v":76,"t":"In nature","series":"d"}
    ]
  },
  "resolve": {"scale": {"color": "independent"}},
  "layer": [
    {
      "data": {"name": "xrd"},
      "transform": [{"fold": ["a", "b", "c", "d"], "as": ["series", "v"]}],
      "mark": {"type": "line", "strokeWidth": 1.6, "clip": true},
      "encoding": {
        "x": {
          "field": "x", "type": "quantitative",
          "scale": {"domain": [5, 75], "nice": false, "zero": false},
          "axis": {
            "values": [5, 15, 25, 35, 45, 55, 65, 75],
            "tickSize": -8, "tickWidth": 2, "tickColor": "#111111",
            "domainColor": "#111111", "domainWidth": 2,
            "labelFlush": false, "labelOverlap": false,
            "labelFontSize": 24, "labelColor": "#111111", "labelPadding": 29,
            "title": "2θ (°) Kα C", "titleFontSize": 24, "titleFontWeight": "normal",
            "titleColor": "#111111", "titlePadding": 7
          }
        },
        "y": {
          "field": "v", "type": "quantitative",
          "scale": {"domain": [0, 541], "nice": false, "zero": false},
          "axis": {
            "ticks": false, "labels": false,
            "domainColor": "#111111", "domainWidth": 2,
            "title": "Intensity (a.u.)", "titleFontSize": 25, "titleFontWeight": "normal",
            "titleColor": "#111111", "titlePadding": 13
          }
        },
        "color": {
          "field": "series", "type": "nominal",
          "scale": {"domain": ["a", "b", "c", "d"], "range": ["#F03C9B", "#1B6EE6", "#FF4814", "#000000"]},
          "legend": null
        }
      }
    },
    {
      "data": {"name": "peaks"},
      "mark": {"type": "text", "angle": 270, "align": "left", "baseline": "middle", "fontSize": 19, "color": "#111111"},
      "encoding": {
        "x": {"field": "x", "type": "quantitative"},
        "y": {"field": "v", "type": "quantitative"},
        "text": {"field": "t"}
      }
    },
    {
      "data": {"name": "box"},
      "mark": {"type": "rect", "fill": "white", "stroke": "#111111", "strokeWidth": 2},
      "encoding": {
        "x": {"field": "x", "type": "quantitative"},
        "x2": {"field": "x2"},
        "y": {"field": "v", "type": "quantitative"},
        "y2": {"field": "v2"}
      }
    },
    {
      "data": {"name": "phases"},
      "mark": {"type": "text", "align": "left", "baseline": "middle", "fontSize": 23, "color": "#111111"},
      "encoding": {
        "x": {"field": "x", "type": "quantitative"},
        "y": {"field": "v", "type": "quantitative"},
        "text": {"field": "t"}
      }
    },
    {
      "data": {"name": "names"},
      "mark": {"type": "text", "align": "right", "baseline": "middle", "fontSize": 28, "fontWeight": "bold"},
      "encoding": {
        "x": {"field": "x", "type": "quantitative"},
        "y": {"field": "v", "type": "quantitative"},
        "text": {"field": "t"},
        "color": {
          "field": "series", "type": "nominal",
          "scale": {"domain": ["a", "b", "c", "d"], "range": ["#DC3F92", "#1F6AD2", "#EC4A18", "#000000"]},
          "legend": null
        }
      }
    }
  ]
}
